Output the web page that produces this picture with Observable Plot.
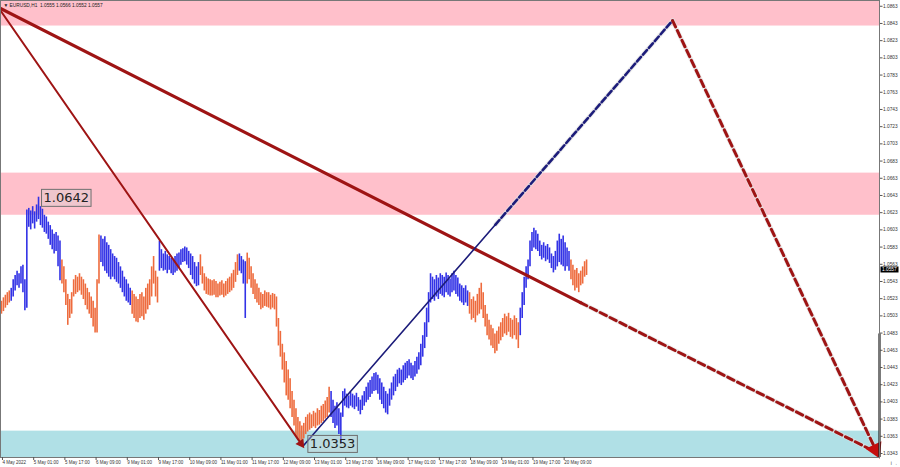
<!DOCTYPE html>
<html><head><meta charset="utf-8">
<script src="https://cdn.jsdelivr.net/npm/d3@7"></script>
<script src="https://cdn.jsdelivr.net/npm/@observablehq/plot@0.6"></script>
<style>body{margin:0;background:#fff} svg{display:block}</style>
</head><body><div id="chart"></div>
<script>
// Hourly bar highs / lows, in pips above 1.0000 (e.g. 641 = 1.0641), bar 0 = 4 May 2022 09:00
const highs = [520,524,527,530,532,535,545,550,555,552,560,562,545,626,628,625,630,624,632,641,
630,627,620,618,612,608,603,598,600,596,590,568,560,545,528,522,530,545,550,548,
552,548,545,540,535,530,525,520,512,545,597,596,592,595,588,585,580,575,572,570,
565,560,555,548,545,540,535,532,528,525,522,528,530,525,535,540,545,560,572,555,
548,590,580,575,578,574,572,570,568,572,575,576,580,581,583,582,578,575,572,565,
560,565,574,560,552,548,546,545,544,545,543,540,542,544,540,543,546,548,552,556,
565,574,575,572,568,566,576,570,560,552,545,540,535,530,528,532,530,530,527,529,
528,525,500,485,470,460,450,440,430,415,405,395,385,380,375,378,385,388,390,388,
392,390,395,393,398,400,404,408,420,415,405,398,402,395,390,415,418,412,410,414,
412,410,413,408,405,410,415,420,425,428,432,436,437,434,430,425,420,415,412,418,
425,432,435,440,442,440,445,448,450,452,448,445,450,455,460,470,480,495,512,530,
552,548,545,550,547,552,550,548,553,550,546,552,555,550,547,540,538,535,538,532,
530,522,525,520,528,535,541,530,515,505,498,492,488,482,485,490,495,500,505,502,
506,500,498,503,500,495,512,530,548,560,568,590,600,605,602,598,590,585,588,584,
586,582,575,572,578,590,598,592,596,588,582,578,568,562,556,558,552,555,560,566,568];
const lows = [505,508,512,515,518,520,525,532,538,535,540,530,509,512,606,603,610,604,612,615,
608,605,600,598,592,585,580,575,578,560,544,540,530,515,492,500,505,525,528,530,
532,527,522,515,510,505,500,490,483,483,540,565,560,555,552,548,545,548,545,542,
540,535,530,525,520,518,515,505,500,496,495,500,502,498,505,510,515,525,540,525,
518,555,558,555,556,552,556,552,550,553,555,558,562,565,566,562,558,550,545,540,
537,538,550,540,532,528,527,526,526,527,524,524,526,527,524,526,528,530,532,535,
542,550,555,552,540,500,540,545,535,528,522,518,515,510,512,514,513,512,510,512,
510,490,468,455,440,425,410,405,395,385,375,362,358,352,355,360,365,368,370,372,
374,372,375,376,378,380,383,385,390,385,378,372,375,365,354,385,398,396,395,398,
396,394,397,392,388,393,398,402,405,408,412,415,416,412,405,400,395,390,388,398,
405,410,415,420,424,422,425,428,430,433,430,428,432,435,440,445,455,465,478,495,
518,522,520,525,522,528,526,524,530,527,525,530,532,528,525,520,518,515,518,514,
505,498,500,495,503,505,510,500,490,480,475,468,465,459,462,470,474,478,482,480,
484,478,476,480,475,465,480,500,515,535,545,560,578,582,580,578,572,568,570,566,
568,564,558,553,556,560,565,562,560,555,560,555,545,538,532,535,530,538,540,548,550];
// wave colouring: first bar of each wave and its direction
const segStart = [0, 5, 31, 51, 67, 81, 102, 122, 126, 169, 240, 266, 292];
const segDir = ["down","up","down","up","down","up","down","up","down","up","down","up","down"];

// time axis
const xTickBars = [0,16,32,48,64,80,96,112,128,144,160,176,192,208,224,240,256,272,288];
const xTickLabels = ["4 May 2022","5 May 01:00","5 May 17:00","6 May 09:00","9 May 01:00","9 May 17:00",
"10 May 09:00","11 May 01:00","11 May 17:00","12 May 09:00","13 May 01:00","13 May 17:00",
"16 May 09:00","17 May 01:00","17 May 17:00","18 May 09:00","19 May 01:00","19 May 17:00","20 May 09:00"];
// price axis
const yTickLabels = ["1.0343","1.0363","1.0383","1.0403","1.0423","1.0443","1.0463","1.0483","1.0503",
"1.0523","1.0543","1.0563","1.0583","1.0603","1.0623","1.0643","1.0663","1.0683","1.0703","1.0723",
"1.0743","1.0763","1.0783","1.0803","1.0823","1.0843","1.0863"];

// zones
const zoneLow  = [1.0840, 1.0620, 1.03383];
const zoneHigh = [1.08697, 1.0669, 1.0369];
const zoneFill = ["#ffc0cb", "#ffc0cb", "#b0e0e6"];

// wave lines (bar index, price)
const mainWaveBar = [-0.5, 296.9];       const mainWavePrice = [1.08604, 1.05185];
const mainFcstBar = [296.9, 448.7];      const mainFcstPrice = [1.05185, 1.03441];
const innerWaveBar = [-0.5, 153.6];      const innerWavePrice = [1.08581, 1.03545];
const upWaveBar = [154.9, 253.3];        const upWavePrice = [1.03523, 1.06092];
const upFcstBar = [253.3, 344.1];        const upFcstPrice = [1.06092, 1.08464];
const downFcstBar = [344.1, 448.2];      const downFcstPrice = [1.08464, 1.03475];

// swing labels
const swingBar = [19, 153];
const swingPrice = [1.0641, 1.0352];
const swingText = ["1.0642", "1.0353"];

const titleText = "\u25BC EURUSD,H1  1.0555 1.0566 1.0552 1.0557";
const lastPrice = 1.0557;

// ---------- build ----------
const bars = highs.map((h, i) => ({
  i, high: 1 + h / 1e4, low: 1 + lows[i] / 1e4,
  dir: segDir[d3.bisectRight(segStart, i) - 1]
}));
const pts = (b, p) => b.map((x, k) => ({i: x, p: p[k]}));
const X0 = -0.5, X1 = 450.2, Y0 = 1.033835, Y1 = 1.08697;
const red = "#9e1414", navy = "#1c1c7a";
const axisFont = "'Liberation Sans', Arial, sans-serif";

const marks = [];
zoneLow.forEach((lo, k) => marks.push(
  Plot.rect([0], {x1: () => X0, x2: () => X1, y1: () => lo, y2: () => zoneHigh[k], fill: zoneFill[k]})
));
marks.push(Plot.ruleX(bars, {x: "i", y1: "low", y2: "high", stroke: "dir", strokeWidth: 1.6}));
// halos under dashed lines
[[mainFcstBar, mainFcstPrice], [upFcstBar, upFcstPrice], [downFcstBar, downFcstPrice]].forEach(([b, p]) =>
  marks.push(Plot.line(pts(b, p), {x: "i", y: "p", stroke: "#e2e2e2", strokeWidth: 4.5, strokeOpacity: 0.7})));
marks.push(
  Plot.line(pts(innerWaveBar, innerWavePrice), {x: "i", y: "p", stroke: red, strokeWidth: 2}),
  Plot.line(pts(mainWaveBar, mainWavePrice), {x: "i", y: "p", stroke: red, strokeWidth: 3.2}),
  Plot.line(pts(mainFcstBar, mainFcstPrice), {x: "i", y: "p", stroke: red, strokeWidth: 3, strokeDasharray: "7,4"}),
  Plot.line(pts(upWaveBar, upWavePrice), {x: "i", y: "p", stroke: navy, strokeWidth: 1.6}),
  Plot.line(pts(upFcstBar, upFcstPrice), {x: "i", y: "p", stroke: navy, strokeWidth: 2.6, strokeDasharray: "6,3"}),
  Plot.line(pts(downFcstBar, downFcstPrice), {x: "i", y: "p", stroke: red, strokeWidth: 3, strokeDasharray: "7,4"}),
  Plot.dot([{i: innerWaveBar[1], p: innerWavePrice[1]}], {x: "i", y: "p", symbol: "triangle", r: 3.6, fill: red, stroke: null, rotate: 145}),
  Plot.dot([{i: downFcstBar[1], p: downFcstPrice[1]}], {x: "i", y: "p", symbol: "triangle", r: 6.5, fill: "#c40f0f", stroke: null, rotate: 155}),
  Plot.ruleX([X1], {y1: () => 1.0482, y2: () => Y0, stroke: "#222", strokeWidth: 2.2}),
  Plot.frame({stroke: "#777", strokeWidth: 1}),
  Plot.axisY(yTickLabels.map(Number), {anchor: "right", tickFormat: d => d.toFixed(4), fontSize: 4.8, fontFamily: axisFont, tickSize: 2.5, tickPadding: 1, fill: "#333", stroke: "#555"}),
  Plot.axisX(xTickBars, {anchor: "bottom", tickFormat: d => xTickLabels[xTickBars.indexOf(d)], textAnchor: "start", fontSize: 4.5, fontFamily: axisFont, tickSize: 3, tickPadding: 0.5, dx: 1, fill: "#333", stroke: "#555"}),
  Plot.text([titleText], {frameAnchor: "top-left", text: d => d, dx: 3, dy: 3, fontSize: 4.8, fontFamily: axisFont, fill: "#222", lineAnchor: "top"}),
  Plot.text([{i: swingBar[0], p: swingPrice[0], t: swingText[0]}], {x: "i", y: "p", text: "t", dx: 5, dy: 1, textAnchor: "start", fontSize: 13, fill: "#222"}),
  Plot.text([{i: swingBar[1], p: swingPrice[1], t: swingText[1]}], {x: "i", y: "p", text: "t", dx: 10, dy: -1.5, textAnchor: "start", fontSize: 13, fill: "#222"}),
  Plot.text([lastPrice], {x: () => X1, y: d => d, text: d => d.toFixed(4), dx: 2.5, textAnchor: "start", fontSize: 4.8, fontFamily: axisFont, fill: "#fff", stroke: null})
);

const plot = Plot.plot({
  width: 900, height: 467,
  marginLeft: 0, marginRight: 21, marginTop: 0, marginBottom: 10,
  x: {domain: [X0, X1], axis: null},
  y: {domain: [Y0, Y1], axis: null},
  color: {domain: ["up", "down"], range: ["#3232e6", "#ee6b3d"]},
  style: {fontFamily: "'DejaVu Sans', sans-serif", background: "#fff", overflow: "visible"},
  marks
});
document.getElementById("chart").append(plot);

function boxify(match, fill, stroke, padX, padY) {
  const svg = plot.tagName.toLowerCase() === "svg" ? plot : plot.querySelector("svg");
  Array.from(plot.querySelectorAll("text")).forEach(t => {
    if (!match(t)) return;
    const b = t.getBBox();
    const r = document.createElementNS("http://www.w3.org/2000/svg", "rect");
    r.setAttribute("x", b.x - padX);
    r.setAttribute("y", b.y - padY);
    r.setAttribute("width", b.width + 2 * padX);
    r.setAttribute("height", b.height + 2 * padY);
    r.setAttribute("fill", fill);
    r.setAttribute("stroke", stroke);
    r.setAttribute("stroke-width", 1);
    if (t.getAttribute("transform")) r.setAttribute("transform", t.getAttribute("transform"));
    t.parentNode.insertBefore(r, t);
  });
}
boxify(t => swingText.includes(t.textContent) && +t.getAttribute("font-size") !== 4.8 && t.closest("g") && !t.closest("g").getAttribute("aria-label")?.includes("axis"),
  "rgba(210,210,210,0.35)", "#6f6f6f", 2, 1);
boxify(t => t.textContent === lastPrice.toFixed(4) && t.getAttribute("fill") !== "#222" && (t.getAttribute("fill") === "#fff" || (t.parentNode.getAttribute("fill") === "#fff")),
  "#000", "none", 1.5, 0.5);
</script></body></html>
